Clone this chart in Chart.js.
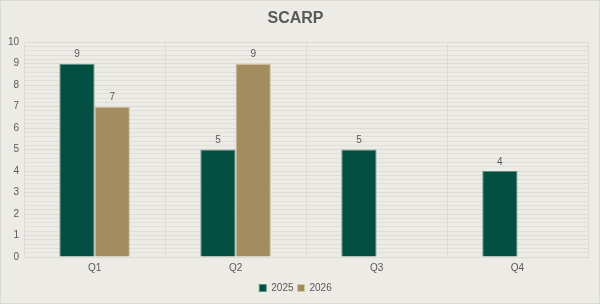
<!DOCTYPE html>
<html>
<head>
<meta charset="utf-8">
<script src="https://cdn.jsdelivr.net/npm/chart.js@4.4.0/dist/chart.umd.min.js"></script>
<style>
  html, body { margin: 0; padding: 0; background: #ECEBE5; }
  #wrap { position: relative; width: 598px; height: 302px; border: 1px solid #D9D9D4; background: #ECEBE5; }
</style>
</head>
<body>
<div id="wrap"><canvas id="grafico"></canvas></div>
<script>
const categorias = ['Q1', 'Q2', 'Q3', 'Q4'];
const valores2025 = [9, 5, 5, 4];
const valores2026 = [7, 9, null, null];

// rótulos de valor acima das barras
const rotulosPlugin = {
  id: 'rotulos',
  afterDatasetsDraw(chart) {
    const ctx = chart.ctx;
    ctx.save();
    ctx.font = '10px "Liberation Sans", Arial, sans-serif';
    ctx.fillStyle = '#595959';
    ctx.textAlign = 'center';
    ctx.textBaseline = 'bottom';
    chart.data.datasets.forEach((ds, i) => {
      chart.getDatasetMeta(i).data.forEach((bar, j) => {
        const v = ds.data[j];
        if (v === null || v === undefined) return;
        ctx.fillText(String(v), bar.x, bar.y - 4);
      });
    });
    ctx.restore();
  }
};

new Chart(document.getElementById('grafico'), {
  type: 'bar',
  data: {
    labels: categorias,
    datasets: [
      {
        label: '2025',
        data: valores2025,
        backgroundColor: '#034F42',
        borderColor: '#5E8F80',
        borderWidth: 1,
        categoryPercentage: 0.5,
        barPercentage: 1.0
      },
      {
        label: '2026',
        data: valores2026,
        backgroundColor: '#A38C5E',
        borderColor: '#D2C49F',
        borderWidth: 1,
        categoryPercentage: 0.5,
        barPercentage: 1.0
      }
    ]
  },
  options: {
    responsive: true,
    maintainAspectRatio: false,
    animation: false,
    layout: { padding: { top: 2, left: 2, right: 11, bottom: 0 } },
    scales: {
      x: {
        grid: { color: '#DCDBD5', offset: true, drawTicks: false },
        border: { color: '#DCDBD5' },
        ticks: { color: '#595959', font: { size: 10, family: '"Liberation Sans", Arial, sans-serif' }, padding: 5 }
      },
      yMenor: {
        position: 'left',
        min: 0,
        max: 10,
        display: true,
        ticks: { display: false, stepSize: 0.2 },
        grid: { color: 'rgba(210,209,202,0.45)', drawTicks: false },
        border: { display: false }
      },
      y: {
        min: 0,
        max: 10,
        ticks: { stepSize: 1, color: '#595959', font: { size: 10, family: '"Liberation Sans", Arial, sans-serif' }, padding: 5 },
        grid: { color: '#DCDBD5', drawTicks: false },
        border: { color: '#DCDBD5' }
      }
    },
    plugins: {
      title: {
        display: true,
        text: 'SCARP',
        color: '#595959',
        font: { size: 16, weight: 'bold', family: '"Liberation Sans", Arial, sans-serif' },
        padding: { top: 6, bottom: 14 }
      },
      legend: {
        position: 'bottom',
        labels: {
          color: '#595959',
          boxWidth: 7,
          boxHeight: 7,
          padding: 4,
          font: { size: 10, family: '"Liberation Sans", Arial, sans-serif' }
        }
      },
      tooltip: { enabled: false }
    }
  },
  plugins: [rotulosPlugin]
});
</script>
</body>
</html>
